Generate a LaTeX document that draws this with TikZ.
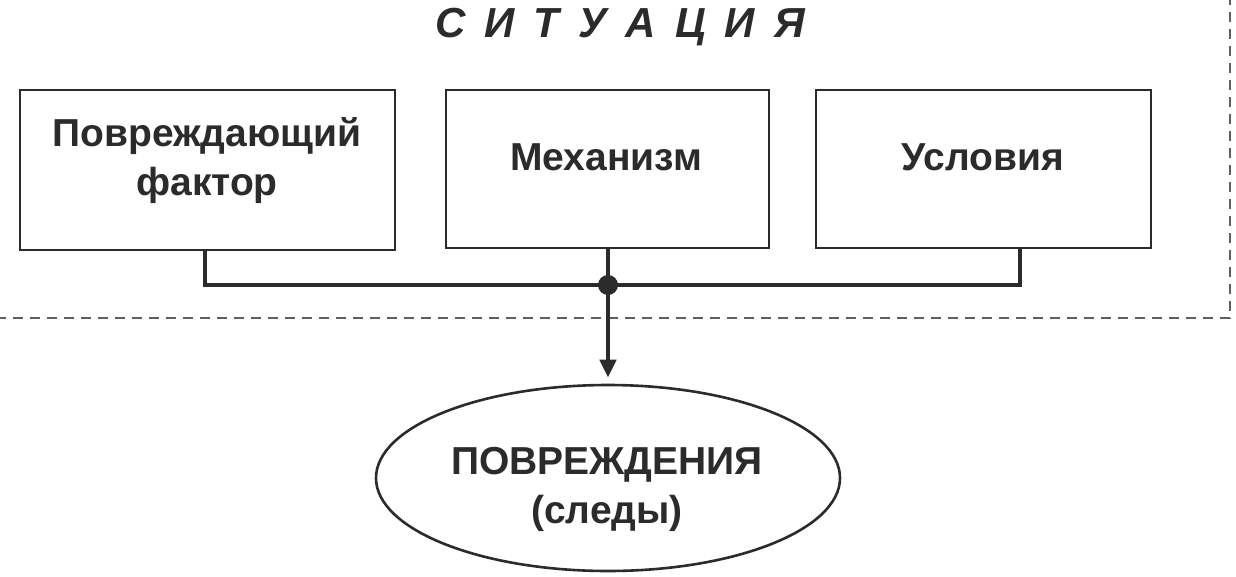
\documentclass[tikz,border=0pt]{standalone}
\usepackage{fontspec}
\setmainfont{Liberation Sans}
\usetikzlibrary{shapes.geometric,arrows.meta,calc}
\definecolor{ink}{HTML}{2B2B2B}
\tikzset{
  box/.style={draw=ink, line width=2pt, rectangle},
  lbl/.style={align=center, text=ink, font=\fontsize{39}{49}\selectfont\bfseries, inner sep=0pt},
  oval/.style={draw=ink, line width=2.6pt, ellipse, inner sep=0pt},
  link/.style={draw=ink, line width=4.5pt},
  frame/.style={draw=ink!75, line width=1.6pt, dash pattern=on 10pt off 7pt},
  title/.style={text=ink, font=\fontsize{42}{50}\selectfont\bfseries\itshape}
}
\begin{document}
\begin{tikzpicture}[x=1pt,y=-1pt]
\useasboundingbox (0,0) rectangle (1236,576);
\clip (0,0) rectangle (1236,576);
\fill[white] (0,0) rectangle (1236,576);
\draw[frame] (-30,-30) rectangle (1230,318);
\node[title] (t) at (620,27) {С\hspace{19pt}И\hspace{19pt}Т\hspace{19pt}У\hspace{19pt}А\hspace{19pt}Ц\hspace{19pt}И\hspace{19pt}Я};
\node[box, minimum width=375pt, minimum height=160pt] (b1) at (207.5,170) {};
\node[box, minimum width=323pt, minimum height=158pt] (b2) at (607,169) {};
\node[box, minimum width=335pt, minimum height=158pt] (b3) at (983,169) {};
\node[lbl] (l1) at (207,161) {Повреждающий\\фактор};
\node[lbl] (l2) at (606,157) {Механизм};
\node[lbl] (l3) at (983,157) {Условия};
\coordinate (j) at (608,285);
\node[oval, minimum width=464pt, minimum height=186pt] (e) at (608,478) {};
\node[lbl] (le) at (607,489) {ПОВРЕЖДЕНИЯ\\(следы)};
\draw[link, line cap=rect] ([xshift=-2.5pt]b1.south) |- (j);
\draw[link, line cap=rect] ([xshift=37pt]b3.south) |- (j);
\draw[link] (b2.south -| j) -- (j);
\draw[link, -{Triangle[length=18pt,width=16pt]}, shorten >=6pt] (j) -- (e.north);
\fill[ink] (j) circle (10pt);
\end{tikzpicture}
\end{document}
